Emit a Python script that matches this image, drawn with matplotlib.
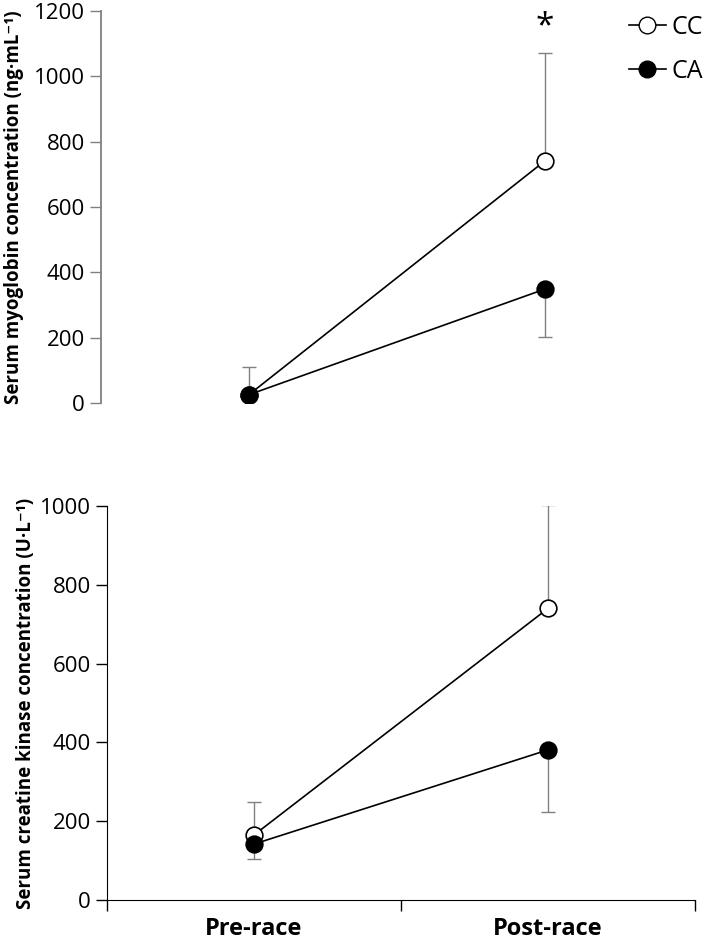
import matplotlib.pyplot as plt
from matplotlib.lines import Line2D

plt.rcParams['font.family'] = ['Open Sans', 'DejaVu Sans']

# Data
groups = ['Pre-race', 'Post-race']
x = [0, 1]

myo_cc = [25, 740]
myo_cc_err = [0, 330]
myo_ca = [25, 348]
myo_ca_err = [85, 145]

ck_cc = [165, 740]
ck_cc_err = [84, 262]
ck_ca = [142, 381]
ck_ca_err = [38, 158]

fig = plt.figure(figsize=(7.04, 9.48), dpi=100)
ax1 = fig.add_axes([0.1435, 0.575, 0.84, 0.4135])
ax2 = fig.add_axes([0.152, 0.0506, 0.835, 0.4156])

errkw = dict(fmt='none', ecolor='#808080', elinewidth=1.0, capsize=5, capthick=1.0)
mkw = dict(color='black', lw=1.2, markersize=12, markeredgewidth=1.2, zorder=3)

# top panel: myoglobin (CC and CA overlap at pre-race)
ax1.errorbar(x, myo_cc, yerr=[[0, 0], myo_cc_err], **errkw)
ax1.errorbar([0], [myo_ca[0]], yerr=[[0], [myo_ca_err[0]]], **errkw)
ax1.errorbar([1], [myo_ca[1]], yerr=[[myo_ca_err[1]], [0]], **errkw)
ax1.plot(x, myo_cc, marker='o', markerfacecolor='white', markeredgecolor='black', **mkw)
ax1.plot(x, myo_ca, marker='o', markerfacecolor='black', markeredgecolor='black', **mkw)
ax1.set_xlim(-0.5, 1.5)
ax1.set_ylim(0, 1200)
ax1.set_yticks(range(0, 1201, 200))
for s in ['top', 'right', 'bottom']:
    ax1.spines[s].set_visible(False)
ax1.spines['left'].set_color('#808080')
ax1.spines['left'].set_linewidth(1.3)
ax1.tick_params(axis='y', labelsize=16, direction='out', length=8, width=1, color='#808080')
ax1.set_xticks([])
ax1.set_ylabel('Serum myoglobin concentration (ng·mL⁻¹)', fontsize=13.5, fontweight='bold')
ax1.yaxis.set_label_coords(-0.13, 0.5)
ax1.text(1, 1150, '*', ha='center', va='center', fontsize=24)

# bottom panel: creatine kinase
ax2.errorbar(x, ck_cc, yerr=[[0, 0], ck_cc_err], **errkw)
ax2.errorbar(x, ck_ca, yerr=[ck_ca_err, [0, 0]], **errkw)
ax2.plot(x, ck_cc, marker='o', markerfacecolor='white', markeredgecolor='black', **mkw)
ax2.plot(x, ck_ca, marker='o', markerfacecolor='black', markeredgecolor='black', **mkw)
ax2.set_xlim(-0.5, 1.5)
ax2.set_ylim(0, 1000)
ax2.set_yticks(range(0, 1001, 200))
for s in ['top', 'right']:
    ax2.spines[s].set_visible(False)
ax2.tick_params(axis='y', labelsize=16, direction='out', length=8, width=1)
ax2.set_xticks([-0.5, 0.5, 1.5])
ax2.set_xticklabels([])
ax2.tick_params(axis='x', direction='out', length=8, width=1)
ax2.set_xticks(x, minor=True)
ax2.set_xticklabels(groups, minor=True, fontsize=17, fontweight='bold')
ax2.tick_params(axis='x', which='minor', length=0, pad=12)
ax2.set_ylabel('Serum creatine kinase concentration (U·L⁻¹)', fontsize=13.5, fontweight='bold')
ax2.yaxis.set_label_coords(-0.12, 0.5)

# legend
handles = [
    Line2D([], [], color='black', lw=1.2, marker='o', markersize=12,
           markerfacecolor='white', markeredgecolor='black'),
    Line2D([], [], color='black', lw=1.2, marker='o', markersize=12,
           markerfacecolor='black', markeredgecolor='black'),
]
fig.legend(handles, ['CC', 'CA'], loc='upper right', bbox_to_anchor=(1.03, 1.008),
           frameon=False, fontsize=18, handlelength=1.5, handletextpad=0.2,
           labelspacing=0.75)

fig.savefig('out.png', dpi=100)
